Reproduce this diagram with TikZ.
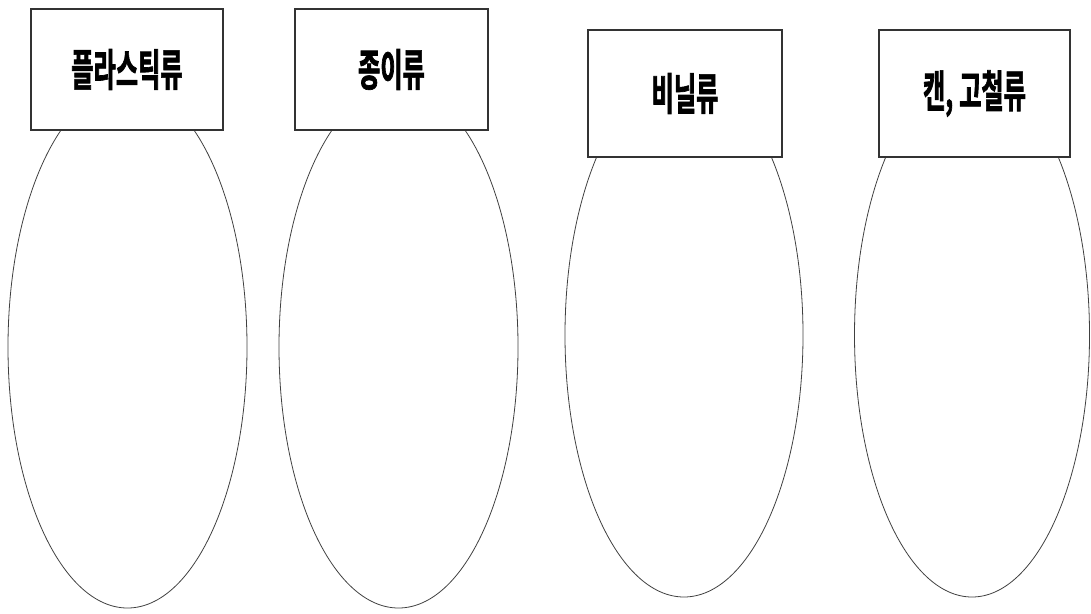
\documentclass[tikz,border=0pt]{standalone}
\usepackage{fontspec}
\newfontfamily\kr[FakeStretch=0.55,FakeBold=1.5]{Noto Sans CJK KR Bold}
\begin{document}
\begin{tikzpicture}[x=1pt,y=-1pt,
  bag/.style={draw=black!75,line width=0.8pt},
  label/.style={draw=black!80,line width=1.3pt,fill=white,inner sep=0pt,font=\kr\fontsize{44}{48}\selectfont}]
\useasboundingbox (0,0) rectangle (1091,613);
\draw[bag] (127.5,347) ellipse [x radius=119.5,y radius=261];
\draw[bag] (398.5,347) ellipse [x radius=119.5,y radius=261];
\draw[bag] (684,335) ellipse [x radius=119,y radius=262];
\draw[bag] (972,335) ellipse [x radius=117.5,y radius=262];
\node[label,minimum width=192pt,minimum height=121pt] (plastic) at (127,69.5) {플라스틱류};
\node[label,minimum width=193pt,minimum height=121pt] (paper) at (391.5,69.5) {종이류};
\node[label,minimum width=194pt,minimum height=127pt] (vinyl) at (685,93.5) {비닐류};
\node[label,minimum width=191pt,minimum height=127pt] (can) at (974.5,93.5) {캔,\hspace{6pt}고철류};
\end{tikzpicture}
\end{document}
